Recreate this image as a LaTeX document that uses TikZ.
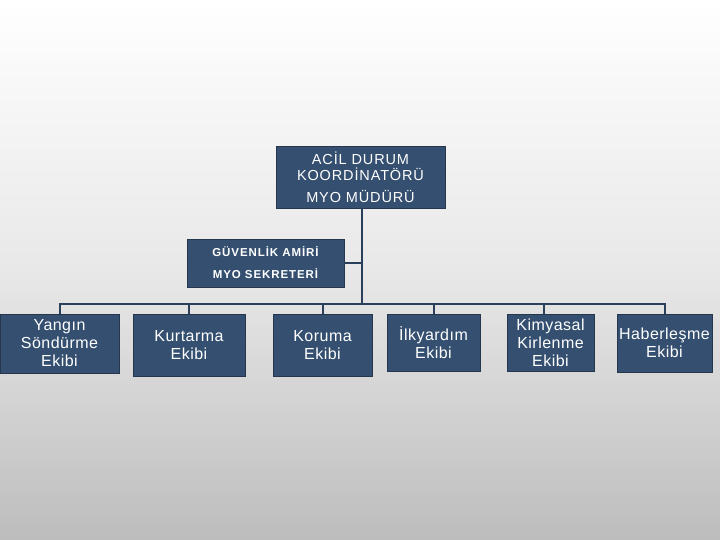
\documentclass[tikz,border=0pt]{standalone}
\usepackage{fontspec}
\setmainfont{Liberation Sans}
\begin{document}
\begin{tikzpicture}[x=1pt,y=1pt]

    \definecolor{kutu}{RGB}{52,79,111}
    \tikzset{
      kutu/.style={
        fill=kutu,
        draw=kutu!70!black,
        line width=0.6pt,
        text=white,
        align=center,
        inner sep=0pt,
      },
      ekip/.style={
        kutu,
        font=\addfontfeature{LetterSpace=3}\fontsize{16}{18}\selectfont,
      },
      hat/.style={
        draw=kutu!80!black,
        line width=2pt,
      },
    }
    \useasboundingbox (0,0) rectangle (720,540);
    \shade[top color=white, bottom color=black!26, middle color=black!9] (0,0) rectangle (720,540);
	\node[kutu,minimum width=169,minimum height=62,font=\addfontfeature{LetterSpace=6}\fontsize{14.5}{16}\selectfont] (koord) at (360.5,363) {AC\.{I}L DURUM\\KOORD\.{I}NAT\"OR\"U\\[6pt]MYO M\"UD\"UR\"U};
	\node[kutu,minimum width=157,minimum height=48,font=\bfseries\addfontfeature{LetterSpace=8}\fontsize{11.5}{13}\selectfont] (guv) at (265.5,277) {G\"UVENL\.{I}K AM\.{I}R\.{I}\\[9pt]MYO SEKRETER\.{I}};
	\coordinate (hub) at (362,236);
	\node[ekip,minimum width=119,minimum height=59] (yangin) at (59.5,196.5) {Yang\i n\\S\"ond\"urme\\Ekibi};
	\node[ekip,minimum width=112,minimum height=62] (kurtarma) at (189,195) {Kurtarma\\Ekibi};
	\node[ekip,minimum width=99,minimum height=62] (koruma) at (322.5,195) {Koruma\\Ekibi};
	\node[ekip,minimum width=93,minimum height=57] (ilkyardim) at (433.5,197.5) {\.{I}lkyard\i m\\Ekibi};
	\node[ekip,minimum width=87,minimum height=57] (kimyasal) at (550.5,197.5) {Kimyasal\\Kirlenme\\Ekibi};
	\node[ekip,minimum width=95,minimum height=58] (haber) at (664.5,197) {Haberle\c{s}me\\Ekibi};
	\draw[hat] (koord.south -| hub) -- (hub);
	\draw[hat] (guv.east) -- (guv.east -| hub);
	\draw[hat] (yangin.north) |- (hub);
	\draw[hat] (kurtarma.north) |- (hub);
	\draw[hat] (koruma.north) |- (hub);
	\draw[hat] (ilkyardim.north) |- (hub);
	\draw[hat] ([xshift=-7pt]kimyasal.north) |- (hub);
	\draw[hat] (haber.north) |- (hub);

\end{tikzpicture}
\end{document}
